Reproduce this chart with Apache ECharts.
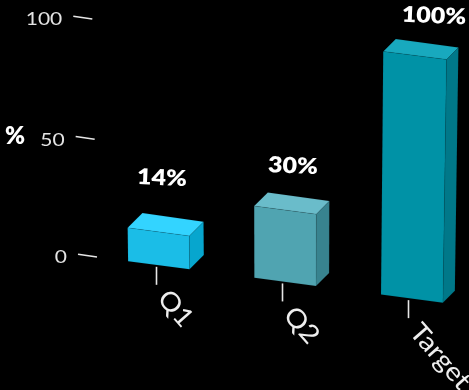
<!DOCTYPE html>
<html><head><meta charset="utf-8">
<style>html,body{margin:0;padding:0;background:#000}#c{width:469px;height:390px}</style>
<script src="https://cdn.jsdelivr.net/npm/echarts@6/dist/echarts.min.js"></script>
</head><body><div id="c"></div>
<script>
var categories = ['Q1', 'Q2', 'Target'];
var percentValues = [14, 30, 100];
var yTicks = [0, 50, 100];
var yUnit = '%';
var frontColors = ['#1BBDE7', '#50A4B1', '#0092A6'];
var topColors = ['#33D4FF', '#6ABCCA', '#18A9BE'];
var sideColors = ['#07A6CE', '#38838F', '#007889'];

var FONT = 'Lato, "Open Sans", sans-serif';
var GRID = {left: 97, top: 19, width: 378, height: 238, outerBoundsMode: 'none'};

// Unit square -> quad homography: corners (0,0) (1,0) (1,1) (0,1)
function makeH(q) {
  var x0=q[0][0],y0=q[0][1],x1=q[1][0],y1=q[1][1],x2=q[2][0],y2=q[2][1],x3=q[3][0],y3=q[3][1];
  var dx1=x1-x2,dx2=x3-x2,sx=x0-x1+x2-x3,dy1=y1-y2,dy2=y3-y2,sy=y0-y1+y2-y3;
  var det=dx1*dy2-dx2*dy1;
  var g=(sx*dy2-dx2*sy)/det,h=(dx1*sy-sx*dy1)/det;
  var a=x1-x0+g*x1,b=x3-x0+h*x3,c=x0,d=y1-y0+g*y1,e=y3-y0+h*y3,f=y0;
  return function(p){
    var u=(p[0]-GRID.left)/GRID.width, v=(p[1]-GRID.top)/GRID.height;
    var w=g*u+h*v+1;
    return [(a*u+b*v+c)/w,(d*u+e*v+f)/w];
  };
}
// corners: top-left, top-right, bottom-right, bottom-left of the plot area
var barPlane = makeH([[91.8,14],[479.8,63.8],[475.5,307],[95.8,257]]);
var axisPlane = makeH([[88.8,19],[475,68],[471.5,307],[93.5,257]]);
function labelPlane(p){ return [1.016*p[0]-0.0778*p[1]+16.84, 0.2295*p[0]+1.074*p[1]-98.97]; }

function depthAt(x){ return 14.8-0.009*(x-128); }

function renderBar(params, api){
  var i=api.value(0), val=api.value(1);
  var base=api.coord([i,0]), top=api.coord([i,val]);
  var hw=api.size([1,0])[0]*0.4875/2;
  var fbl=barPlane([base[0]-hw,base[1]]), fbr=barPlane([base[0]+hw,base[1]]);
  var ftl=barPlane([top[0]-hw,top[1]]), ftr=barPlane([top[0]+hw,top[1]]);
  function back(p){var d=depthAt(p[0]);return [p[0]+d,p[1]-d];}
  var btl=back(ftl),btr=back(ftr),bbr=back(fbr);
  var tx=base[0]-3.5, ty=axisPlane([tx,base[1]])[1]+2;
  var edge='rgba(0,0,0,0.15)';
  function poly(pts,fill,z){return {type:'polygon',z2:z,shape:{points:pts},style:{fill:fill,stroke:edge,lineWidth:0.5}};}
  var lp=labelPlane(top);
  return {type:'group',children:[
    poly([ftr,btr,bbr,fbr],sideColors[i],1),
    poly([ftl,btl,btr,ftr],topColors[i],2),
    poly([ftl,ftr,fbr,fbl],frontColors[i],3),
    {type:'line',z2:1,shape:{x1:tx,y1:ty,x2:tx,y2:ty+18},style:{stroke:'#e6e6e6',lineWidth:1.6}},
    {type:'text',z2:5,x:tx+6,y:ty+27,rotation:-0.85,scaleX:1.1,
      style:{text:categories[i],fill:'#eeeeee',font:'400 26px '+FONT,align:'left',verticalAlign:'middle'}},
    {type:'text',z2:5,x:lp[0],y:lp[1],rotation:-0.04,scaleY:0.88,
      style:{text:val+'%',fill:'#fff',font:'800 25px '+FONT,align:'center',verticalAlign:'middle'}}
  ]};
}
function renderTick(params, api){
  var v=api.value(0);
  var p=axisPlane([GRID.left,api.coord([0,v])[1]]);
  var xr=p[0]+3.5, yr=p[1];
  return {type:'group',children:[
    {type:'line',shape:{x1:xr-19,y1:yr-2.7,x2:xr,y2:yr},style:{stroke:'#e6e6e6',lineWidth:1.6}},
    {type:'text',x:xr-30,y:yr+1,scaleY:0.8,
      style:{text:String(v),fill:'#e4e4e4',font:'400 21px '+FONT,align:'right',verticalAlign:'middle'}}
  ]};
}
var chart=echarts.init(document.getElementById('c'),null,{renderer:'canvas'});
chart.setOption({
  animation:false,
  backgroundColor:'#000',
  grid:GRID,
  xAxis:{type:'category',data:categories,show:false},
  yAxis:{type:'value',min:0,max:100,interval:50,show:false},
  graphic:[{type:'text',left:5,top:124,style:{text:yUnit,fill:'#fff',font:'800 24px '+FONT}}],
  series:[
    {type:'custom',coordinateSystem:'cartesian2d',clip:false,silent:true,
     data:percentValues.map(function(v,i){return [i,v];}),encode:{x:0,y:1},renderItem:renderBar},
    {type:'custom',coordinateSystem:'cartesian2d',clip:false,silent:true,
     data:yTicks.map(function(v){return [v];}),encode:{y:0},renderItem:renderTick}
  ]
});
</script></body></html>
